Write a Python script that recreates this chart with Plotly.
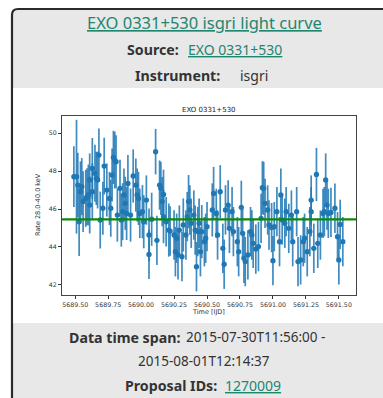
import plotly.graph_objects as go

# ---- data ----
time_ijd = [
    5689.49, 5689.51, 5689.52, 5689.53, 5689.54, 5689.55, 5689.56, 5689.58, 5689.59, 5689.60,
    5689.61, 5689.61, 5689.63, 5689.63, 5689.65, 5689.66, 5689.67, 5689.68, 5689.69, 5689.71,
    5689.72, 5689.74, 5689.76, 5689.77, 5689.78, 5689.79, 5689.80, 5689.81, 5689.82, 5689.84,
    5689.85, 5689.86, 5689.87, 5689.88, 5689.89, 5689.90, 5689.92, 5689.94, 5689.96, 5689.97,
    5689.98, 5689.99, 5690.01, 5690.02, 5690.04, 5690.06, 5690.06, 5690.08, 5690.11, 5690.12,
    5690.14, 5690.15, 5690.16, 5690.17, 5690.17, 5690.19, 5690.21, 5690.22, 5690.25, 5690.26,
    5690.27, 5690.28, 5690.29, 5690.31, 5690.32, 5690.34, 5690.35, 5690.36, 5690.37, 5690.38,
    5690.40, 5690.41, 5690.42, 5690.43, 5690.44, 5690.45, 5690.46, 5690.48, 5690.49, 5690.50,
    5690.54, 5690.55, 5690.57, 5690.58, 5690.60, 5690.62, 5690.63, 5690.64, 5690.66, 5690.67,
    5690.69, 5690.70, 5690.73, 5690.74, 5690.76, 5690.77, 5690.78, 5690.79, 5690.81, 5690.83,
    5690.84, 5690.85, 5690.87, 5690.89, 5690.91, 5690.92, 5690.93, 5690.94, 5690.96, 5690.97,
    5690.99, 5691.00, 5691.01, 5691.03, 5691.05, 5691.06, 5691.07, 5691.09, 5691.10, 5691.12,
    5691.14, 5691.15, 5691.18, 5691.19, 5691.21, 5691.23, 5691.24, 5691.26, 5691.28, 5691.29,
    5691.29, 5691.31, 5691.33, 5691.34, 5691.36, 5691.38, 5691.39, 5691.40, 5691.41, 5691.42,
    5691.44, 5691.47, 5691.49, 5691.50, 5691.51, 5691.53,
]
rate = [
    47.70, 47.70, 47.26, 45.33, 46.91, 47.18, 46.39, 46.56, 46.65, 46.74,
    46.21, 47.53, 46.91, 48.14, 47.88, 47.61, 47.53, 48.84, 45.42, 46.04,
    48.26, 47.00, 46.56, 46.04, 47.79, 48.72, 48.58, 48.49, 45.68, 47.09,
    45.42, 45.86, 46.74, 46.30, 45.77, 47.35, 45.68, 47.74, 47.26, 46.74,
    46.56, 45.77, 45.86, 45.33, 46.47, 44.63, 43.61, 45.46, 49.02, 44.35,
    47.26, 47.09, 46.39, 45.60, 46.77, 45.33, 44.89, 44.84, 44.63, 43.75,
    44.46, 43.58, 44.89, 43.49, 45.16, 44.63, 45.60, 46.39, 45.95, 45.25,
    45.68, 44.89, 42.96, 44.81, 45.25, 43.75, 44.81, 44.28, 44.46, 45.07,
    45.95, 46.82, 45.77, 44.63, 46.91, 43.93, 43.09, 45.95, 46.21, 44.98,
    45.86, 44.81, 44.28, 43.75, 46.09, 44.72, 43.40, 43.23, 43.58, 44.81,
    44.63, 44.19, 43.89, 44.02, 45.51, 47.12, 47.09, 46.30, 45.95, 45.16,
    45.02, 43.28, 45.07, 45.86, 44.28, 46.74, 45.42, 45.25, 45.86, 44.98,
    45.68, 44.28, 45.86, 43.23, 43.32, 44.28, 44.46, 43.75, 44.81, 45.86,
    46.47, 43.93, 47.82, 44.19, 44.63, 45.77, 45.86, 47.53, 46.21, 45.77,
    45.82, 46.04, 44.54, 43.32, 45.19, 44.28,
]
rate_err = [
    1.6, 3.0, 1.7, 1.8, 1.6, 1.5, 1.6, 1.5, 1.5, 1.6,
    1.5, 1.4, 1.5, 1.6, 1.5, 1.4, 1.5, 1.4, 1.5, 1.4,
    1.5, 1.4, 1.4, 1.5, 1.4, 1.4, 1.5, 1.4, 1.4, 1.5,
    1.4, 1.5, 1.4, 1.4, 1.4, 1.5, 1.4, 1.4, 1.4, 1.4,
    1.4, 1.3, 1.4, 1.4, 1.3, 1.4, 1.3, 1.4, 1.2, 1.3,
    1.3, 1.4, 1.3, 1.4, 1.3, 1.3, 1.4, 1.3, 1.3, 1.3,
    1.3, 1.3, 1.3, 1.3, 1.4, 1.3, 1.3, 1.4, 1.3, 1.3,
    1.3, 1.3, 1.3, 1.3, 1.3, 1.3, 1.4, 1.3, 1.3, 1.3,
    1.4, 1.4, 1.3, 1.3, 1.4, 1.3, 1.3, 1.3, 1.3, 1.3,
    1.3, 1.3, 1.3, 1.3, 1.4, 1.3, 1.3, 1.3, 1.3, 1.3,
    1.3, 1.3, 1.3, 1.3, 1.3, 1.4, 1.4, 1.3, 1.3, 1.3,
    1.3, 1.3, 1.3, 1.3, 1.3, 1.4, 1.3, 1.3, 1.3, 1.3,
    1.3, 1.3, 1.3, 1.3, 1.3, 1.3, 1.3, 1.3, 1.3, 1.3,
    1.3, 1.3, 1.4, 1.3, 1.3, 1.3, 1.3, 1.4, 1.3, 1.3,
    1.3, 1.3, 1.3, 1.3, 1.3, 1.3,
]
mean_rate = 45.45

x_tick_vals = [5689.50, 5689.75, 5690.00, 5690.25, 5690.50, 5690.75, 5691.00, 5691.25, 5691.50]
x_tick_text = ["5689.50", "5689.75", "5690.00", "5690.25", "5690.50", "5690.75", "5691.00", "5691.25", "5691.50"]
y_tick_vals = [42, 44, 46, 48, 50]
y_tick_text = ["42", "44", "46", "48", "50"]

plot_title = "EXO 0331+530"
x_label = "Time [IJD]"
y_label = "Rate 28.0-40.0 keV"

card_title = "EXO 0331+530 isgri light curve"
source_name = "EXO 0331+530"
instrument = "isgri"
span_line1 = "2015-07-30T11:56:00 -"
span_line2 = "2015-08-01T12:14:37"
proposal_id = "1270009"

# ---- layout helpers (pixel -> paper) ----
W, H = 383, 398
def px(x):
    return x / W
def py(y):
    return 1 - y / H

BLUE = "#1f77b4"
LINK = "#22866f"
TEXT = "#333333"
CARD_BG = "#e8e8e8"
CARD_FONT = "Noto Sans"
MPL_FONT = "DejaVu Sans"

fig = go.Figure()
fig.add_trace(go.Scatter(
    x=time_ijd, y=rate,
    mode="markers",
    marker=dict(color=BLUE, size=5.3),
    error_y=dict(type="data", array=rate_err, color="rgba(31,119,180,0.85)", thickness=1.7, width=0),
    showlegend=False, hoverinfo="x+y",
))

# card background & border
r = 6
x0, y0, x1, y1 = 12, 9, 400, 410
card_path = (f"M {px(x0)},{py(y1)} L {px(x0)},{py(y0 + r)} Q {px(x0)},{py(y0)} {px(x0 + r)},{py(y0)} "
             f"L {px(x1)},{py(y0)} L {px(x1)},{py(y1)} Z")
shapes = [
    dict(type="path", xref="paper", yref="paper", path=card_path,
         fillcolor=CARD_BG, line=dict(color="#2b2b2b", width=2.2), layer="below"),
    dict(type="rect", xref="paper", yref="paper", x0=px(13.2), x1=px(W), y0=py(323), y1=py(88),
         fillcolor="white", line=dict(width=0), layer="below"),
    dict(type="line", xref="x domain", yref="y", x0=0, x1=1, y0=mean_rate, y1=mean_rate,
         line=dict(color="#0a8a0a", width=2.2), layer="above"),
]

REG = 13.5
BOLD = 14.2
def ann(text, x, y, size=REG, color=TEXT, bold=False, underline=False, anchor="left", family=CARD_FONT, angle=0):
    f = dict(family=family, size=size, color=color, weight=700 if bold else 400)
    if underline:
        f["lineposition"] = "under"
    return dict(text=text, x=px(x), y=py(y), xref="paper", yref="paper", showarrow=False,
                xanchor=anchor, yanchor="middle", font=f, textangle=angle)

annotations = [
    ann(card_title, 204, 23, size=16.5, color=LINK, underline=True, anchor="center"),
    ann("Source:", 125, 50, size=BOLD, bold=True),
    ann(source_name, 186, 50, size=14, color=LINK, underline=True),
    ann("Instrument:", 133, 75, size=BOLD, bold=True),
    ann(instrument, 238, 75, size=14),
    ann("Data time span:", 67, 337, size=BOLD, bold=True),
    ann(span_line1, 184, 337),
    ann(span_line2, 204, 361, anchor="center"),
    ann("Proposal IDs:", 123, 385, size=BOLD, bold=True),
    ann(proposal_id, 223, 385, size=14, color=LINK, underline=True),
    ann(plot_title, 209, 110, size=7, color="#222", anchor="center", family=MPL_FONT),
    ann(x_label, 209, 312, size=6.5, color="#333", anchor="center", family=MPL_FONT),
    ann(y_label, 38, 205, size=6.5, color="#333", anchor="center", family=MPL_FONT, angle=-90),
]

fig.update_layout(
    width=W, height=H,
    margin=dict(l=0, r=0, t=0, b=0),
    paper_bgcolor="white",
    plot_bgcolor="white",
    shapes=shapes,
    annotations=annotations,
    xaxis=dict(domain=[px(62), px(356)], range=[5689.40, 5691.63],
               tickvals=x_tick_vals, ticktext=x_tick_text,
               ticks="outside", ticklen=3, tickwidth=0.8, tickcolor="#333",
               tickfont=dict(family=MPL_FONT, size=6.3, color="#333"),
               showgrid=False, zeroline=False, showline=True, mirror=True,
               linecolor="#444", linewidth=0.9, anchor="y"),
    yaxis=dict(domain=[py(295), py(116)], range=[41.47, 50.9],
               tickvals=y_tick_vals, ticktext=y_tick_text,
               ticks="outside", ticklen=3, tickwidth=0.8, tickcolor="#333",
               tickfont=dict(family=MPL_FONT, size=6.3, color="#333"),
               showgrid=False, zeroline=False, showline=True, mirror=True,
               linecolor="#444", linewidth=0.9, anchor="x"),
)

fig.write_html(
    "out.html",
    config={"displayModeBar": False},
    post_script="document.body.style.margin='0';document.body.style.overflow='hidden';",
)
